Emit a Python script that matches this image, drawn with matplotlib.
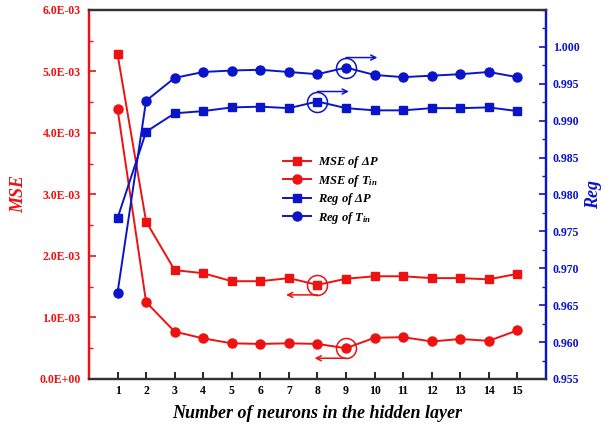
import numpy as np
import matplotlib
matplotlib.use("Agg")
import matplotlib.pyplot as plt
import matplotlib.transforms as mtransforms
from matplotlib.ticker import FuncFormatter, MultipleLocator

# --- fonts ---
plt.rcParams["font.family"] = "Liberation Serif"
plt.rcParams["mathtext.fontset"] = "custom"
plt.rcParams["mathtext.rm"] = "Liberation Serif:bold:italic"
plt.rcParams["mathtext.it"] = "Liberation Serif:bold:italic"
plt.rcParams["mathtext.bf"] = "Liberation Serif:bold:italic"

# --- data ---
neurons = np.arange(1, 16)
mse_dp = [5.28e-3, 2.56e-3, 1.77e-3, 1.72e-3, 1.59e-3, 1.59e-3, 1.64e-3, 1.53e-3,
          1.63e-3, 1.67e-3, 1.67e-3, 1.64e-3, 1.64e-3, 1.62e-3, 1.71e-3]
mse_tin = [4.39e-3, 1.25e-3, 0.77e-3, 0.66e-3, 0.58e-3, 0.57e-3, 0.58e-3, 0.57e-3,
           0.50e-3, 0.67e-3, 0.68e-3, 0.61e-3, 0.65e-3, 0.62e-3, 0.79e-3]
reg_dp = [0.9768, 0.9885, 0.9910, 0.9913, 0.9918, 0.9919, 0.9917, 0.9926,
          0.9917, 0.9914, 0.9914, 0.9917, 0.9917, 0.9918, 0.9913]
reg_tin = [0.9667, 0.9927, 0.9958, 0.9966, 0.9968, 0.9969, 0.9966, 0.9963,
           0.9972, 0.9962, 0.9959, 0.9961, 0.9963, 0.9966, 0.9959]

RED = "#ee1111"
BLUE = "#0a14c8"
DARK = "#333333"

fig = plt.figure(figsize=(6.12, 4.29), dpi=100)
ax = fig.add_axes([0.1454, 0.1166, 0.7466, 0.8601])
ax2 = ax.twinx()

l1, = ax.plot(neurons, mse_dp, "-s", color=RED, lw=1.4, ms=5.5, label=r"MSE of $\Delta P$")
l2, = ax.plot(neurons, mse_tin, "-o", color=RED, lw=1.4, ms=6.5, label=r"MSE of $T_{in}$")
l3, = ax2.plot(neurons, reg_dp, "-s", color=BLUE, lw=1.4, ms=5.5, label=r"Reg of $\Delta P$")
l4, = ax2.plot(neurons, reg_tin, "-o", color=BLUE, lw=1.4, ms=6.5, label=r"Reg of $T_{in}$")

# --- axes ranges / ticks ---
ax.set_xlim(0, 16)
ax.set_ylim(0, 6.0e-3)
ax2.set_ylim(0.955, 1.005)
ax.set_xticks(neurons)
ax.yaxis.set_major_locator(MultipleLocator(1.0e-3))
ax.yaxis.set_minor_locator(MultipleLocator(0.5e-3))
ax.yaxis.set_major_formatter(FuncFormatter(lambda v, p: f"{v:.1E}"))
ax2.yaxis.set_major_locator(MultipleLocator(0.005))
ax2.yaxis.set_minor_locator(MultipleLocator(0.0025))
ax2.yaxis.set_major_formatter(FuncFormatter(lambda v, p: f"{v:.3f}"))
ax2.set_yticks(np.arange(0.955, 1.0001, 0.005))

ax.tick_params(axis="x", direction="in", length=5, width=1.2, pad=4,
               labelsize=8.5, colors="black")
ax.tick_params(axis="y", which="major", direction="in", length=5, width=1.2,
               pad=6, labelsize=8.5, colors=RED)
ax.tick_params(axis="y", which="minor", direction="in", length=3, width=1.0, colors=RED)
ax2.tick_params(axis="y", which="major", direction="in", length=5, width=1.2,
                pad=5, labelsize=8.5, colors=BLUE)
ax2.tick_params(axis="y", which="minor", direction="in", length=3, width=1.0, colors=BLUE)
for lab in ax.get_xticklabels() + ax.get_yticklabels() + ax2.get_yticklabels():
    lab.set_fontweight("bold")

for a in (ax, ax2):
    a.spines["left"].set_color(RED)
    a.spines["right"].set_color(BLUE)
    a.spines["top"].set_color(DARK)
    a.spines["bottom"].set_color(DARK)
    for s in a.spines.values():
        s.set_linewidth(1.6)

ax.set_xlabel("Number of neurons in the hidden layer", fontsize=13,
              fontweight="bold", style="italic", labelpad=6)
ax.set_ylabel("MSE", fontsize=13, fontweight="bold", style="italic", color=RED, labelpad=9)
ax2.set_ylabel("Reg", fontsize=13, fontweight="bold", style="italic", color=BLUE, labelpad=4)

# --- legend ---
leg = ax2.legend(handles=[l1, l2, l3, l4], loc="upper left", bbox_to_anchor=(0.40, 0.64),
                 frameon=False, handlelength=2.2, handletextpad=0.6, labelspacing=0.2,
                 prop={"family": "Liberation Serif", "weight": "bold",
                       "style": "italic", "size": 9})

# --- highlighted points with direction arrows ---
r_pt = 7.2  # ring radius in points


def mark(axis, x, y, color, side):
    axis.plot([x], [y], "o", ms=2 * r_pt, mfc="none", mec=color, mew=1.1)
    dy = r_pt if side == "right" else -r_pt
    off = mtransforms.ScaledTranslation(0, dy / 72.0, fig.dpi_scale_trans)
    tr = axis.transData + off
    x_end = x + 1.1 if side == "right" else x - 1.1
    axis.annotate("", xy=(x_end, y), xycoords=tr, xytext=(x, y), textcoords=tr,
                  arrowprops=dict(arrowstyle="->", color=color, lw=1.1,
                                  shrinkA=0, shrinkB=0, mutation_scale=9))


mark(ax2, 9, reg_tin[8], BLUE, "right")
mark(ax2, 8, reg_dp[7], BLUE, "right")
mark(ax, 8, mse_dp[7], RED, "left")
mark(ax, 9, mse_tin[8], RED, "left")

fig.savefig("out.png", dpi=100)
plt.close(fig)
